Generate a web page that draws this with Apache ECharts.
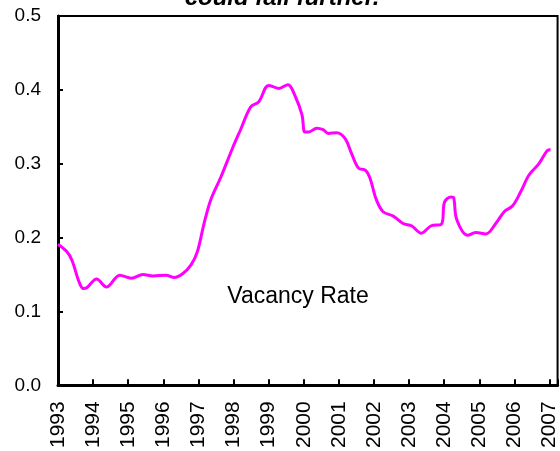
<!DOCTYPE html>
<html>
<head>
<meta charset="utf-8">
<script src="https://cdn.jsdelivr.net/npm/echarts@6/dist/echarts.min.js"></script>
<style>
  html, body { margin: 0; padding: 0; background: #fff; }
  #chart { width: 560px; height: 451px; }
</style>
</head>
<body>
<div id="chart"></div>
<script>
// decimal years
var dates = [1993.0, 1993.25, 1993.4, 1993.6, 1993.72, 1993.82, 1994.1, 1994.38, 1994.76, 1995.09,
  1995.42, 1995.7, 1996.08, 1996.31, 1996.55, 1996.79, 1996.97, 1997.16, 1997.35, 1997.64,
  1997.97, 1998.2, 1998.49, 1998.72, 1999.0, 1999.29, 1999.55, 1999.76, 1999.95, 2000.03,
  2000.14, 2000.37, 2000.55, 2000.7, 2000.94, 2001.18, 2001.36, 2001.56, 2001.76, 2001.89,
  2002.07, 2002.26, 2002.55, 2002.83, 2003.07, 2003.35, 2003.63, 2003.92, 2004.01, 2004.2,
  2004.27, 2004.36, 2004.67, 2004.9, 2005.19, 2005.47, 2005.71, 2005.95, 2006.18, 2006.42,
  2006.7, 2006.94, 2007.03]

var vacancy = [0.191, 0.181, 0.169, 0.140, 0.131, 0.132, 0.144, 0.133, 0.149, 0.145,
  0.150, 0.148, 0.149, 0.146, 0.151, 0.163, 0.181, 0.219, 0.251, 0.282,
  0.321, 0.346, 0.377, 0.384, 0.406, 0.402, 0.407, 0.391, 0.366, 0.343,
  0.343, 0.348, 0.346, 0.341, 0.342, 0.334, 0.314, 0.294, 0.291, 0.280,
  0.251, 0.235, 0.229, 0.219, 0.216, 0.206, 0.216, 0.218, 0.248, 0.255,
  0.254, 0.224, 0.203, 0.207, 0.205, 0.219, 0.235, 0.243, 0.262, 0.285,
  0.300, 0.318, 0.319]

var yearTicks = [1993, 1994, 1995, 1996, 1997, 1998, 1999, 2000, 2001, 2002, 2003, 2004, 2005, 2006, 2007]

var font = 'Liberation Sans, Arial, sans-serif'

var chart = echarts.init(document.getElementById('chart'), null, { renderer: 'canvas' })

var points = dates.map(function (d, i) { return [d, vacancy[i]] })

chart.setOption({
  animation: false,
  backgroundColor: '#fff',
  grid: {
    left: 58, right: 1, top: 16, bottom: 65,
    show: true, borderColor: '#000', borderWidth: 2, backgroundColor: 'transparent'
  },
  graphic: [
    {
      type: 'text',
      style: {
        text: 'could fall further.', x: 282, y: -2,
        font: 'italic bold 24px ' + font, fill: '#000',
        align: 'center', verticalAlign: 'middle'
      }
    },
    {
      type: 'text',
      style: {
        text: 'Vacancy Rate', x: 298, y: 297,
        font: '23px ' + font, fill: '#000',
        align: 'center', verticalAlign: 'middle'
      }
    }
  ],
  xAxis: {
    type: 'value',
    min: 1993,
    max: 2007.23,
    interval: 1,
    splitLine: { show: false },
    axisLine: { lineStyle: { color: '#000', width: 3 } },
    axisTick: { inside: true, length: 6, lineStyle: { color: '#000', width: 2 } },
    axisLabel: {
      rotate: 90, margin: 16, color: '#000', fontFamily: font, fontSize: 21,
      formatter: function (v) {
        return yearTicks.indexOf(Math.round(v * 100) / 100) >= 0 ? String(v) : ''
      }
    }
  },
  yAxis: {
    type: 'value',
    min: 0,
    max: 0.5,
    interval: 0.1,
    splitLine: { show: false },
    axisLine: { show: true, lineStyle: { color: '#000', width: 3 } },
    axisTick: { show: true, inside: true, length: 5, lineStyle: { color: '#000', width: 2 } },
    axisLabel: {
      margin: 17, color: '#000', fontFamily: font, fontSize: 19,
      formatter: function (v) { return v.toFixed(1) }
    }
  },
  series: [{
    type: 'line',
    data: points,
    showSymbol: false,
    smooth: 0.35,
    lineStyle: { color: '#ff00ff', width: 3 },
    itemStyle: { color: '#ff00ff' }
  }]
})
</script>
</body>
</html>
